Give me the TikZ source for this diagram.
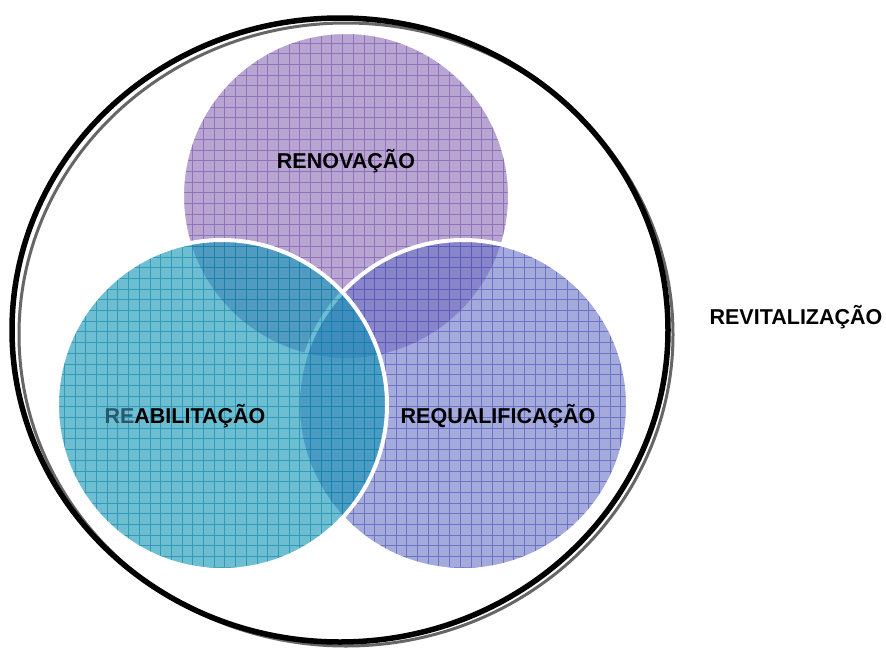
\documentclass[tikz,border=0pt]{standalone}
\usepackage{fontspec}
\setmainfont{Liberation Sans}
\usepackage{tikz}
\usetikzlibrary{arrows,%
                shapes,positioning}

\definecolor{renovfill}{RGB}{138,105,180}
\definecolor{renovgrid}{RGB}{118,82,172}
\definecolor{reabfill}{RGB}{13,147,180}
\definecolor{reabgrid}{RGB}{8,128,170}
\definecolor{requfill}{RGB}{105,113,197}
\definecolor{requgrid}{RGB}{70,80,180}
\definecolor{reabtext}{RGB}{40,88,108}

\tikzset{lbl/.style={font=\bfseries\fontsize{21.5}{22}\selectfont, inner sep=0pt, anchor=base},
         ring/.style={draw=white, line width=4pt},
         bubble/.style={fill opacity=0.6, draw opacity=0.6}}

\begin{document}
\begin{tikzpicture}[x=1pt,y=-1pt]
\useasboundingbox (0,0) rectangle (886,648);
%outer ring
\coordinate (revit) at (340,330);
\draw[black!60, line width=3pt] ([shift={(6,4.5)}]revit) ellipse [x radius=327, y radius=311.5];
\draw[black, line width=5.5pt] (revit) ellipse [x radius=328, y radius=312];
\coordinate (renov) at (346,196);
\coordinate (requa) at (463,405);
\coordinate (reabi) at (222,405);
%renovacao
\begin{scope}[bubble]
\fill[renovfill] (renov) circle (164);
\clip (renov) circle (164);
\draw[renovgrid, line width=0.6pt, step=10.7pt] (170,20) grid (520,370);
\end{scope}
\draw[ring] (renov) circle (164);
%requalificacao
\begin{scope}[bubble]
\fill[requfill] (requa) circle (165);
\clip (requa) circle (165);
\draw[requgrid, line width=0.6pt, step=10.7pt] (290,230) grid (640,580);
\end{scope}
\draw[ring] (requa) circle (165);
%reabilitacao
\begin{scope}[bubble]
\fill[reabfill] (reabi) circle (165);
\clip (reabi) circle (165);
\draw[reabgrid, line width=0.6pt, step=10.7pt] (50,230) grid (400,580);
\end{scope}
\draw[ring] (reabi) circle (165);
%labels
\node[lbl] (renovacao) at (346,168) {RENOVAÇÃO};
\node[lbl] (reabilitacao) at (185,423) {\textcolor{reabtext}{RE}ABILITAÇÃO};
\node[lbl] (requalificacao) at (498,423) {REQUALIFICAÇÃO};
\node[lbl] (revitalizacao) at (796,324) {REVITALIZAÇÃO};
\end{tikzpicture}
\end{document}
